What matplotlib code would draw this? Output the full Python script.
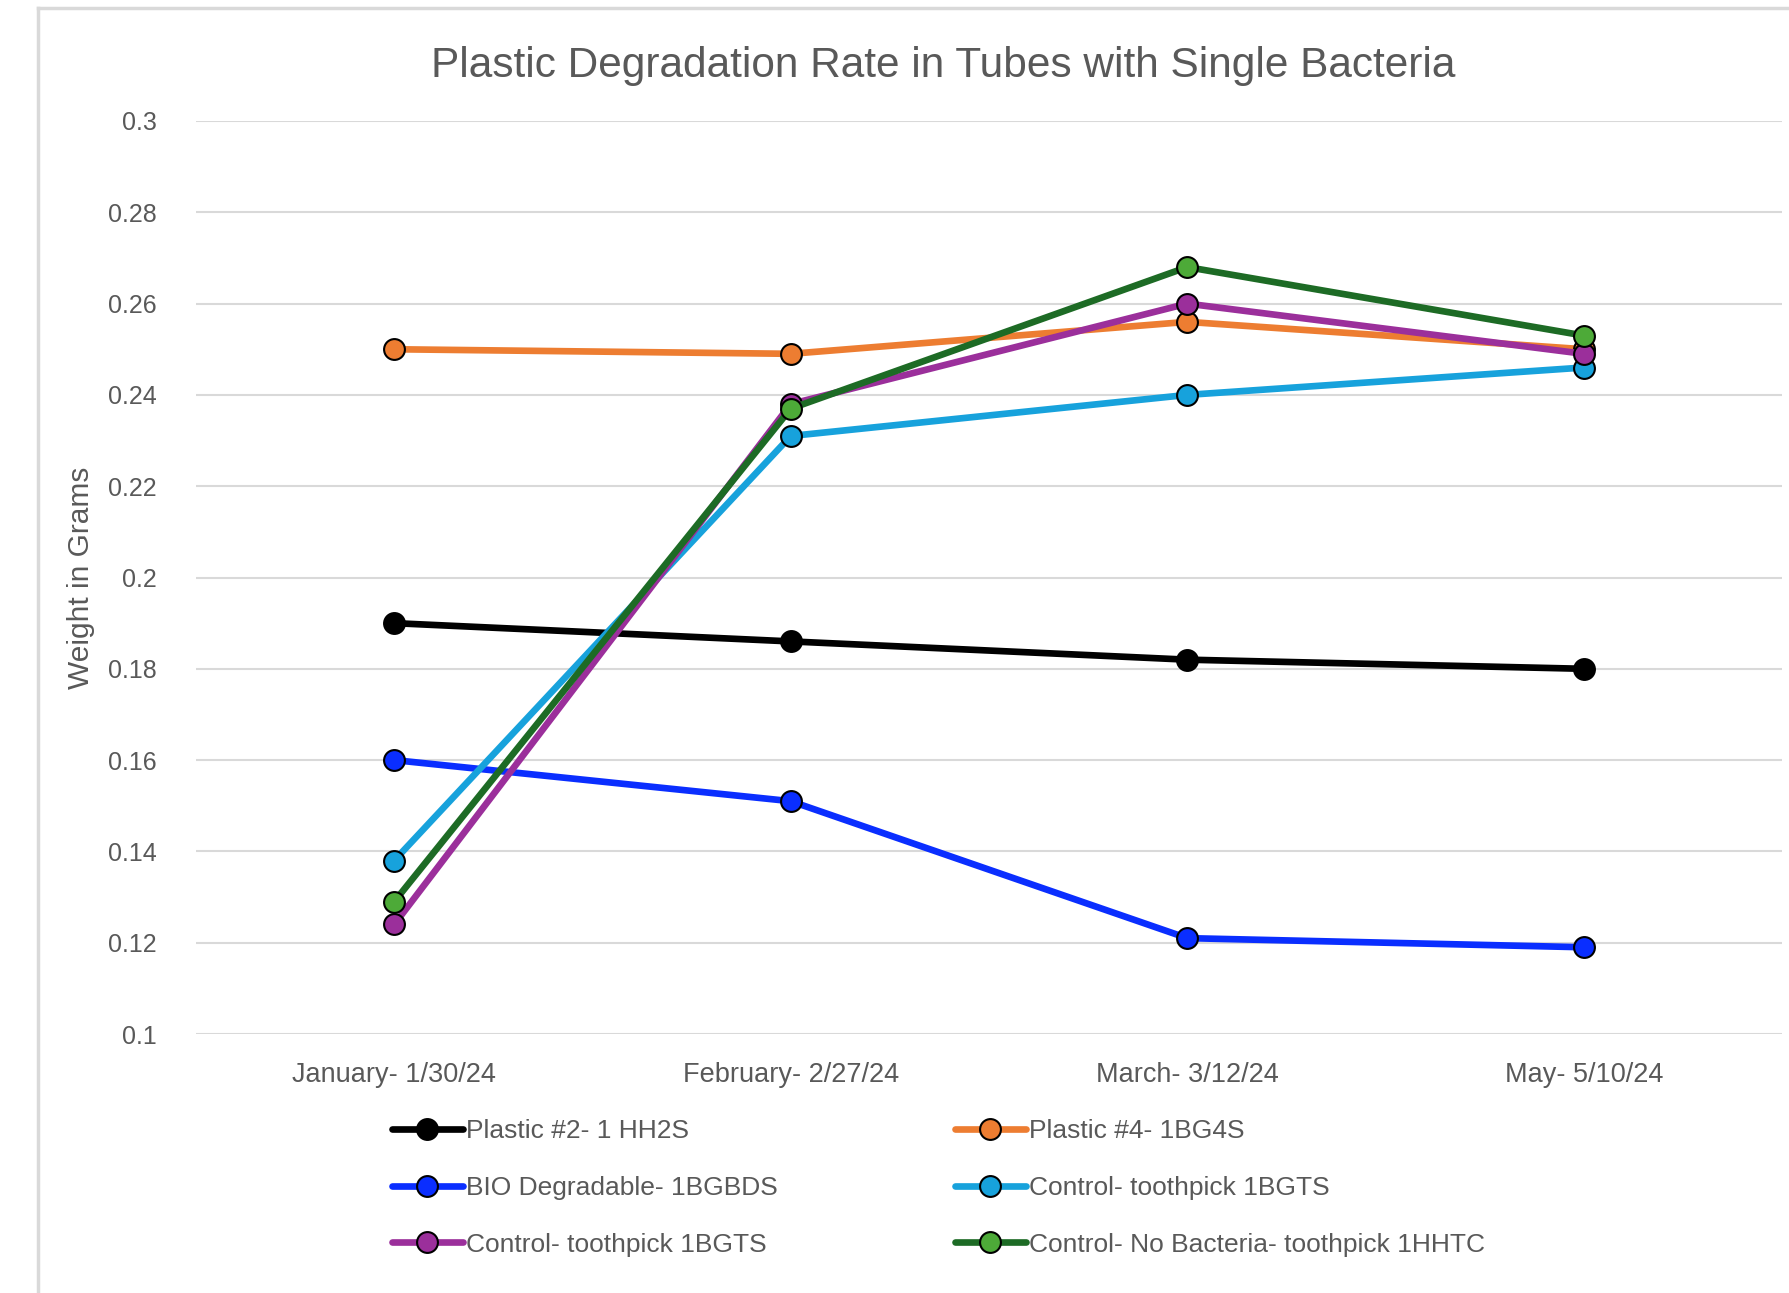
import matplotlib
matplotlib.use("Agg")
import matplotlib.pyplot as plt
from matplotlib.lines import Line2D

# --- data ---
dates = ["January- 1/30/24", "February- 2/27/24", "March- 3/12/24", "May- 5/10/24"]

plastic2 = [0.190, 0.186, 0.182, 0.180]
plastic4 = [0.250, 0.249, 0.256, 0.250]
bio_degradable = [0.160, 0.151, 0.121, 0.119]
toothpick_a = [0.138, 0.231, 0.240, 0.246]
toothpick_b = [0.124, 0.238, 0.260, 0.249]
no_bacteria = [0.129, 0.237, 0.268, 0.253]

labels = ["Plastic #2- 1 HH2S", "Plastic #4- 1BG4S", "BIO Degradable- 1BGBDS",
          "Control- toothpick 1BGTS", "Control- toothpick 1BGTS",
          "Control- No Bacteria- toothpick 1HHTC"]
yticks = [0.1, 0.12, 0.14, 0.16, 0.18, 0.2, 0.22, 0.24, 0.26, 0.28, 0.3]

font = "Liberation Sans"
grey = "#595959"

fig = plt.figure(figsize=(17.89, 12.93), dpi=100)
ax = fig.add_axes([196 / 1789, 1 - 1034 / 1293, (1782 - 196) / 1789, (1034 - 121) / 1293])

x = list(range(len(dates)))
series = [
    (plastic2, "#000000", "#000000", labels[0]),
    (plastic4, "#ED7D31", "#ED7D31", labels[1]),
    (bio_degradable, "#0A2EFF", "#0A2EFF", labels[2]),
    (toothpick_a, "#17A2DC", "#17A2DC", labels[3]),
    (toothpick_b, "#9B2F9B", "#9B2F9B", labels[4]),
    (no_bacteria, "#1D6B25", "#4DAA38", labels[5]),
]

handles = []
for vals, col, face, lab in series:
    h, = ax.plot(x, vals, color=col, linewidth=4.8, marker="o", markersize=15,
                 markerfacecolor=face, markeredgecolor="black", markeredgewidth=1.5,
                 label=lab, solid_capstyle="round", zorder=3)
    handles.append(h)

ax.set_xlim(-0.5, 3.5)
ax.set_ylim(0.1, 0.3)
ax.set_yticks(yticks)
ax.set_yticklabels([f"{v:g}" for v in yticks], fontsize=18, color=grey, family=font)
ax.set_xticks(x)
ax.set_xticklabels(dates, fontsize=19.5, color=grey, family=font)
ax.tick_params(length=0)
ax.tick_params(axis="y", pad=28)
ax.tick_params(axis="x", pad=20)
ax.grid(axis="y", color="#D9D9D9", linewidth=1.5)
ax.set_axisbelow(True)
for s in ax.spines.values():
    s.set_visible(False)

ax.set_ylabel("Weight in Grams", fontsize=21.5, color=grey, family=font)
ax.yaxis.set_label_coords(-0.0635, 0.5)

fig.text(943 / 1789, 1 - 66 / 1293, "Plastic Degradation Rate in Tubes with Single Bacteria",
         ha="center", va="center", fontsize=30.5, color=grey, family=font)

# legend: two columns placed separately
leg_kw = dict(frameon=False, handlelength=2.7, handletextpad=0.1, labelspacing=1.25,
              loc="upper left", prop={"family": font, "size": 19}, labelcolor=grey)
fig.legend([handles[0], handles[2], handles[4]], [labels[0], labels[2], labels[4]],
           bbox_to_anchor=(368 / 1789, 1 - 1095 / 1293), **leg_kw)
fig.legend([handles[1], handles[3], handles[5]], [labels[1], labels[3], labels[5]],
           bbox_to_anchor=(931 / 1789, 1 - 1095 / 1293), **leg_kw)

# light frame around the chart area
fig.add_artist(Line2D([38 / 1789, 38 / 1789], [0, 1 - 8 / 1293], transform=fig.transFigure,
                      color="#D9D9D9", linewidth=2.5))
fig.add_artist(Line2D([38 / 1789, 1], [1 - 8 / 1293, 1 - 8 / 1293], transform=fig.transFigure,
                      color="#D9D9D9", linewidth=2.5))

fig.savefig("out.png", dpi=100)
